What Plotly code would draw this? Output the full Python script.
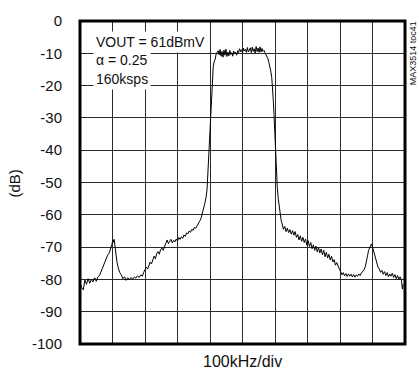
import plotly.graph_objects as go

# Frequency offset across the screen (kHz, 100 kHz/div) and measured level (dB)
freq_khz = [
    0, 5, 10, 15, 20, 25, 30, 35, 40, 45, 50, 55, 60,
    65, 70, 75, 80, 85, 90, 95, 98, 101, 103, 105, 108, 111, 114, 118, 122, 127,
    132, 137, 142, 147, 152, 157, 162, 167, 172, 177, 182, 187, 192, 196, 200,
    204, 208, 212, 216, 220, 224, 228, 232, 236, 240, 244, 248, 252, 256, 260,
    264, 268, 272, 276, 280, 284, 288, 292, 296, 300, 304, 308, 312, 316, 320,
    324, 328, 332, 336, 340, 344, 348, 352, 356, 360, 364, 368, 372, 376, 380,
    384, 388, 391, 393, 395, 397, 399, 401, 403, 405, 407, 410, 413, 416, 419,
    422, 425, 428, 431, 434, 437, 440, 443, 446, 449, 452, 455, 458, 461, 464,
    467, 470, 473, 476, 479, 482, 485, 488, 491, 494, 497, 500, 503, 506, 509,
    512, 515, 518, 521, 524, 527, 530, 533, 536, 539, 542, 545, 548, 551, 554,
    557, 560, 563, 566, 569, 572, 575, 578, 581, 584, 587, 590, 593, 595, 597,
    599, 601, 603, 605, 607, 610, 613, 616, 619, 622, 626, 630, 634, 638, 642,
    646, 650, 654, 658, 662, 666, 670, 674, 678, 682, 686, 690, 694, 698, 702,
    706, 710, 714, 718, 722, 726, 730, 734, 738, 742, 746, 750, 754, 758, 762,
    766, 770, 774, 778, 782, 786, 790, 794, 798, 802, 806, 810, 814, 818, 822,
    826, 830, 834, 838, 842, 846, 850, 854, 858, 862, 866, 870, 874, 878, 882,
    885, 888, 891, 894, 897, 900, 903, 906, 909, 913, 917, 921, 925, 929, 933,
    937, 941, 945, 949, 953, 957, 961, 965, 969, 973, 977, 981, 985, 989, 992,
    994,
]
level_db = [
    -81.0, -82.5, -83.2, -80.2, -81.5, -79.8, -81.2, -80.0, -80.8, -79.5, -80.6, -79.2, -78.8,
    -77.5, -76.2, -75.0, -73.8, -72.5, -71.8, -70.5, -69.2, -67.8, -68.5, -67.6, -70.5, -72.5, -74.8, -76.5, -77.8, -78.6,
    -79.8, -79.2, -80.3, -79.5, -80.1, -79.4, -79.9, -79.3, -79.6, -78.9, -79.4, -78.6, -79.0, -77.8, -77.0,
    -76.2, -76.8, -75.3, -74.6, -75.2, -73.5, -72.8, -73.6, -72.0, -71.4, -72.2, -70.8, -70.3, -71.0, -69.5,
    -68.8, -67.8, -68.9, -68.2, -67.6, -68.7, -67.9, -68.4, -67.5, -68.1, -67.0, -67.6, -66.8, -67.3, -66.2,
    -66.7, -65.6, -65.9, -65.0, -65.4, -64.5, -64.8, -63.9, -64.2, -63.3, -62.9, -62.0, -61.2, -59.8, -58.2,
    -56.5, -54.5, -52.0, -48.0, -44.0, -39.5, -35.0, -31.0, -27.5, -21.0, -16.5, -14.0, -12.5, -11.8, -10.2,
    -9.5, -9.2, -10.5, -8.8, -10.9, -9.4, -11.2, -9.0, -10.6, -8.7, -11.0, -9.6, -10.8, -9.1, -10.4,
    -9.8, -10.9, -9.3, -10.2, -9.7, -10.6, -9.2, -9.8, -8.6, -9.5, -8.9, -9.9, -8.4, -9.3, -8.8,
    -9.7, -8.2, -9.6, -9.0, -8.3, -9.8, -8.1, -9.4, -8.6, -9.9, -7.9, -9.5, -8.4, -9.7, -8.0,
    -9.6, -8.5, -9.4, -9.1, -9.8, -10.3, -10.9, -11.6, -12.8, -14.0, -15.5, -17.5, -21.0, -25.0, -29.0,
    -34.0, -39.0, -43.0, -47.5, -51.5, -55.0, -58.0, -60.2, -61.8, -62.8, -64.5, -63.6, -65.2, -64.1, -65.5,
    -64.6, -66.0, -64.9, -66.3, -65.2, -67.0, -66.1, -67.8, -66.5, -68.2, -67.0, -68.6, -67.5, -69.4, -68.0,
    -69.8, -68.6, -70.5, -69.3, -71.0, -69.7, -71.5, -70.2, -71.8, -70.6, -72.4, -71.0, -73.0, -71.6, -73.4,
    -72.2, -74.0, -72.8, -74.6, -73.9, -75.6, -74.8, -76.2, -76.8, -77.6, -78.6, -77.9, -78.9, -78.2, -79.1,
    -78.3, -79.0, -78.4, -79.2, -78.5, -79.3, -78.6, -79.0, -78.3, -78.8, -78.0, -77.6, -77.0, -76.0, -74.5,
    -72.5, -71.0, -70.2, -69.3, -69.0, -70.0, -71.2, -72.3, -73.4, -74.8, -76.2, -76.8, -77.8, -77.2, -78.4,
    -77.6, -78.8, -77.9, -79.2, -78.3, -79.0, -78.1, -79.4, -78.5, -79.8, -78.8, -80.0, -79.2, -80.2, -83.0,
    -81.5,
]

y_tick_vals = [0, -10, -20, -30, -40, -50, -60, -70, -80, -90, -100]
y_tick_text = ["0", "-10", "-20", "-30", "-40", "-50", "-60", "-70", "-80", "-90", "-100"]
info_lines = ["VOUT = 61dBmV", "\u03b1 = 0.25", "160ksps"]

FONT = "Liberation Sans, Arial, sans-serif"

fig = go.Figure()
fig.add_trace(go.Scatter(
    x=freq_khz, y=level_db, mode="lines",
    line=dict(color="black", width=1),
    hoverinfo="skip", showlegend=False,
))

L, R, T, B = 80, 14, 14, 32
W, H = 419, 376
pw, ph = W - L - R, H - T - B

def px(xp):
    return (xp - L) / pw

def py(yp):
    return (H - B - yp) / ph

fig.update_layout(
    width=W, height=H,
    margin=dict(l=L, r=R, t=T, b=B, pad=0),
    paper_bgcolor="white", plot_bgcolor="white",
    font=dict(family=FONT, size=15, color="#111"),
    xaxis=dict(
        range=[0, 1000], dtick=100, tick0=0,
        showticklabels=False, ticks="",
        showgrid=True, gridcolor="#2a2a2a", gridwidth=1,
        zeroline=False, showline=False, fixedrange=True,
    ),
    yaxis=dict(
        range=[-100, 0], tickvals=y_tick_vals, ticktext=y_tick_text,
        ticks="", ticklabelstandoff=17,
        showgrid=True, gridcolor="#2a2a2a", gridwidth=1,
        zeroline=False, showline=False, fixedrange=True,
        tickfont=dict(family=FONT, size=15, color="#111"),
    ),
    shapes=[dict(
        type="rect", xref="paper", yref="paper", x0=0, x1=1, y0=0, y1=1,
        line=dict(color="black", width=3), fillcolor="rgba(0,0,0,0)", layer="above",
    )],
)

annos = []
ys = [35, 54, 73]
for txt, yp in zip(info_lines, ys):
    annos.append(dict(
        text=txt, xref="paper", yref="paper", x=px(93), y=py(yp),
        xanchor="left", yanchor="middle", showarrow=False,
        bgcolor="white", borderpad=2,
        font=dict(family=FONT, size=14, color="#111"),
    ))
annos.append(dict(
    text="(dB)", xref="paper", yref="paper", x=px(14), y=py(180),
    xanchor="center", yanchor="middle", textangle=-90, showarrow=False,
    font=dict(family=FONT, size=15, color="#111"),
))
annos.append(dict(
    text="100kHz/div", xref="paper", yref="paper", x=px(243), y=py(362),
    xanchor="center", yanchor="middle", showarrow=False,
    font=dict(family=FONT, size=16, color="#111"),
))
annos.append(dict(
    text="MAX3514 toc41", xref="paper", yref="paper", x=px(413), y=py(47),
    xanchor="center", yanchor="middle", textangle=-90, showarrow=False,
    font=dict(family=FONT, size=9, color="#111"),
))
fig.update_layout(annotations=annos)

fig.write_html(
    "out.html",
    config={"displayModeBar": False, "staticPlot": True},
    post_script="document.body.style.margin='0px';document.body.style.padding='0px';",
)
